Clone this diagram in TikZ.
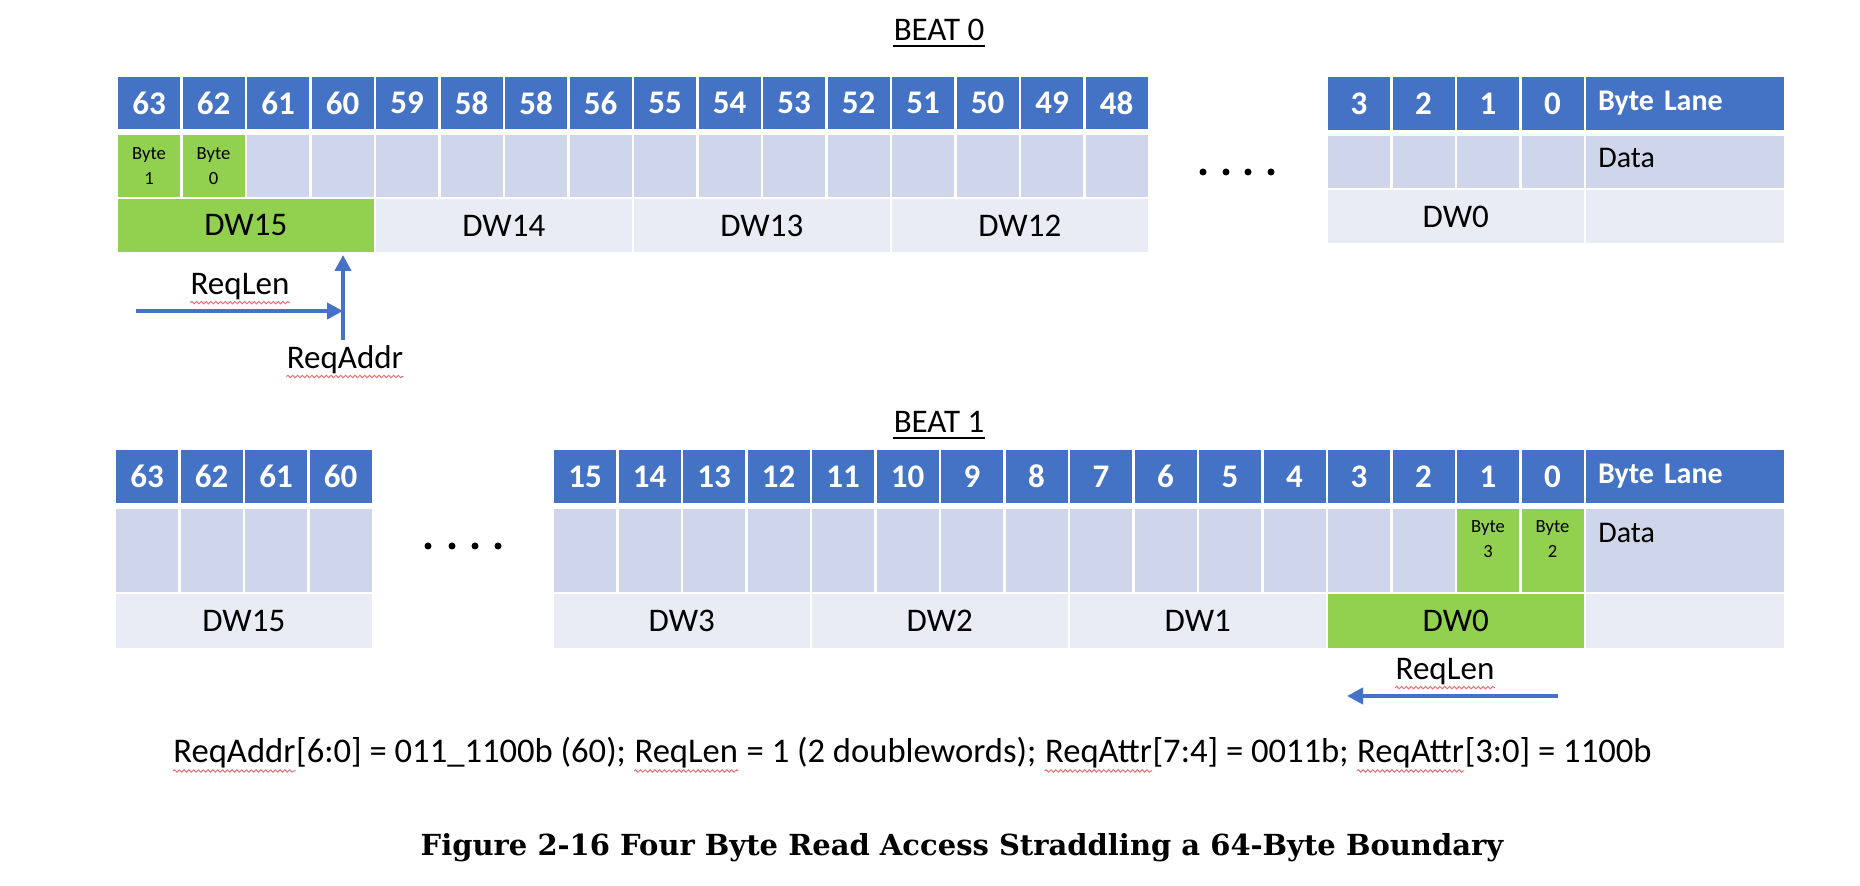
\documentclass[tikz,border=0pt]{standalone}
\usepackage{fontspec}
\setmainfont{Carlito}
\newfontfamily\capfont{DejaVu Serif}
\usetikzlibrary{arrows.meta,decorations.pathmorphing}
\definecolor{hblue}{HTML}{4472C4}
\definecolor{dlight}{HTML}{CFD5EA}
\definecolor{dwl}{HTML}{E9EBF5}
\definecolor{ggreen}{HTML}{92D050}
\definecolor{sqred}{HTML}{E57373}
\tikzset{
  cb/.style={inner sep=0pt, outer sep=0pt, anchor=north west, minimum width=31pt},
  hdr/.style={cb, fill=hblue, text=white, font=\bfseries\fontsize{16.5}{18}\selectfont},
  dat/.style={cb, fill=dlight},
  dwc/.style={cb, fill=dwl, minimum width=127.75pt, font=\fontsize{16.5}{18}\selectfont},
  grn/.style={fill=ggreen},
  lane/.style={minimum width=99pt, text width=87pt, inner xsep=6pt, align=left, font=\bfseries\fontsize{15}{18}\selectfont},
  lanecell/.style={minimum width=99pt},
  bytetxt/.style={inner sep=0pt, align=center, font=\fontsize{9.3}{12.5}\selectfont},
  lbl/.style={inner sep=0pt, font=\fontsize{16.5}{18}\selectfont},
  datatxt/.style={inner sep=0pt, anchor=west, font=\fontsize{15}{18}\selectfont},
  arr/.style={draw=hblue, line width=2pt, -{Triangle[length=8pt,width=8pt]}},
  sq/.style={draw=sqred, line width=0.5pt, decorate, decoration={snake, amplitude=0.6pt, segment length=2.4pt}},
  chain/.style={inner sep=0pt, anchor=base west, font=\fontsize{17.3}{19}\selectfont},
  dot/.style={fill=black}
}
\begin{document}
\begin{tikzpicture}[x=0.5pt,y=-0.5pt]
\useasboundingbox (0,0) rectangle (1860,886);
\fill[white] (0,0) rectangle (1860,886);

% ---------- BEAT 0 ----------
\node[lbl, anchor=base] (beat0) at (939,41) {BEAT 0};
\draw[line width=1pt] ([yshift=-2.5pt]beat0.base west) -- ([yshift=-2.5pt]beat0.base east);

\foreach \l [count=\i from 0] in {63,62,61,60,59,58,58,56,55,54,53,52,51,50,49,48}{
  \node[hdr, minimum height=26pt] (ah\i) at ({118+64.5*\i},77) {\l};
}
\node[dat, grn, minimum height=31pt] (ad0) at (118,135) {};
\node[dat, grn, minimum height=31pt] (ad1) at (182.5,135) {};
\foreach \i in {2,...,15}{
  \node[dat, minimum height=31pt] (ad\i) at ({118+64.5*\i},135) {};
}
\node[bytetxt] (ab1) at (ad0.center) {Byte\\1};
\node[bytetxt] (ab0) at (ad1.center) {Byte\\0};
\node[dwc, grn, minimum height=26.5pt] (adw15) at (118,199) {DW15};
\node[dwc, minimum height=26.5pt] (adw14) at (376,199) {DW14};
\node[dwc, minimum height=26.5pt] (adw13) at (634,199) {DW13};
\node[dwc, minimum height=26.5pt] (adw12) at (892,199) {DW12};

\foreach \x in {1203,1226,1248,1271}{ \fill[dot] (\x,172) circle (1.75pt); }

\foreach \l [count=\j from 0] in {3,2,1,0}{
  \node[hdr, minimum height=26.5pt] (bh\j) at ({1328+64.5*\j},77) {\l};
  \node[dat, minimum height=26pt] (bd\j) at ({1328+64.5*\j},136) {};
}
\node[hdr, lane, minimum height=26.5pt] (bhl) at (1586,77) {Byte Lane};
\node[dat, lanecell, minimum height=26pt] (bdl) at (1586,136) {};
\node[datatxt] (bdata) at (1598,158) {Data};
\node[dwc, minimum height=26.5pt] (bdw0) at (1328,190) {DW0};
\node[dwc, lanecell, minimum height=26.5pt] (bdwl) at (1586,190) {};

% arrows beat 0
\coordinate (rl0s) at (136,311);
\coordinate (rl0e) at (343,311);
\coordinate (ra0s) at (343,340);
\coordinate (ra0e) at (343,255);
\draw[arr] (rl0s) -- (rl0e);
\draw[arr] (ra0s) -- (ra0e);
\node[lbl] (rl0) at (240,287) {ReqLen};
\node[lbl] (ra0) at (345,360) {ReqAddr};
\draw[sq] ([yshift=-1pt]rl0.south west) -- ([yshift=-1pt]rl0.south east);
\draw[sq] ([yshift=-1pt]ra0.south west) -- ([yshift=-1pt]ra0.south east);

% ---------- BEAT 1 ----------
\node[lbl, anchor=base] (beat1) at (939,433) {BEAT 1};
\draw[line width=1pt] ([yshift=-2.5pt]beat1.base west) -- ([yshift=-2.5pt]beat1.base east);

\foreach \l [count=\i from 0] in {63,62,61,60}{
  \node[hdr, minimum height=26.5pt] (ch\i) at ({116+64.5*\i},450) {\l};
  \node[dat, minimum height=41.5pt] (cd\i) at ({116+64.5*\i},509) {};
}
\node[dwc, minimum height=27pt] (cdw15) at (116,594) {DW15};

\foreach \x in {428,452,475,498}{ \fill[dot] (\x,546) circle (1.75pt); }

\foreach \l [count=\i from 0] in {15,14,13,12,11,10,9,8,7,6,5,4,3,2,1,0}{
  \node[hdr, minimum height=26.5pt] (dh\i) at ({554+64.5*\i},450) {\l};
}
\foreach \i in {0,...,13}{
  \node[dat, minimum height=41.5pt] (dd\i) at ({554+64.5*\i},509) {};
}
\node[dat, grn, minimum height=41.5pt] (dd14) at (1457,509) {};
\node[dat, grn, minimum height=41.5pt] (dd15) at (1521.5,509) {};
\node[bytetxt] (db3) at (1488,539) {Byte\\3};
\node[bytetxt] (db2) at (1552.5,539) {Byte\\2};
\node[hdr, lane, minimum height=26.5pt] (dhl) at (1586,450) {Byte Lane};
\node[dat, lanecell, minimum height=41.5pt] (ddl) at (1586,509) {};
\node[datatxt] (ddata) at (1598,533) {Data};
\node[dwc, minimum height=27pt] (ddw3) at (554,594) {DW3};
\node[dwc, minimum height=27pt] (ddw2) at (812,594) {DW2};
\node[dwc, minimum height=27pt] (ddw1) at (1070,594) {DW1};
\node[dwc, grn, minimum height=27pt] (ddw0) at (1328,594) {DW0};
\node[dwc, lanecell, minimum height=27pt] (ddwl) at (1586,594) {};

\coordinate (rl1s) at (1558,696);
\coordinate (rl1e) at (1347,696);
\draw[arr] (rl1s) -- (rl1e);
\node[lbl] (rl1) at (1445,672) {ReqLen};
\draw[sq] ([yshift=-1pt]rl1.south west) -- ([yshift=-1pt]rl1.south east);

% ---------- bottom line ----------
\node[chain] (t1) at (173,763) {ReqAddr};
\node[chain] (t2) at (t1.base east) {[6:0] = 011\_1100b (60);\ \mbox{}};
\node[chain] (t3) at (t2.base east) {ReqLen};
\node[chain] (t4) at (t3.base east) {\mbox{}\ = 1 (2 doublewords);\ \mbox{}};
\node[chain] (t5) at (t4.base east) {ReqAttr};
\node[chain] (t6) at (t5.base east) {[7:4] = 0011b;\ \mbox{}};
\node[chain] (t7) at (t6.base east) {ReqAttr};
\node[chain] (t8) at (t7.base east) {[3:0] = 1100b};
\foreach \w in {t1,t3,t5,t7}{
  \draw[sq] ([yshift=-1pt]\w.south west) -- ([yshift=-1pt]\w.south east);
}

\node[font=\capfont\bfseries\fontsize{14.5}{17}\selectfont, inner sep=0pt] (cap) at (962,848) {Figure 2-16 Four Byte Read Access Straddling a 64-Byte Boundary};
\end{tikzpicture}
\end{document}
